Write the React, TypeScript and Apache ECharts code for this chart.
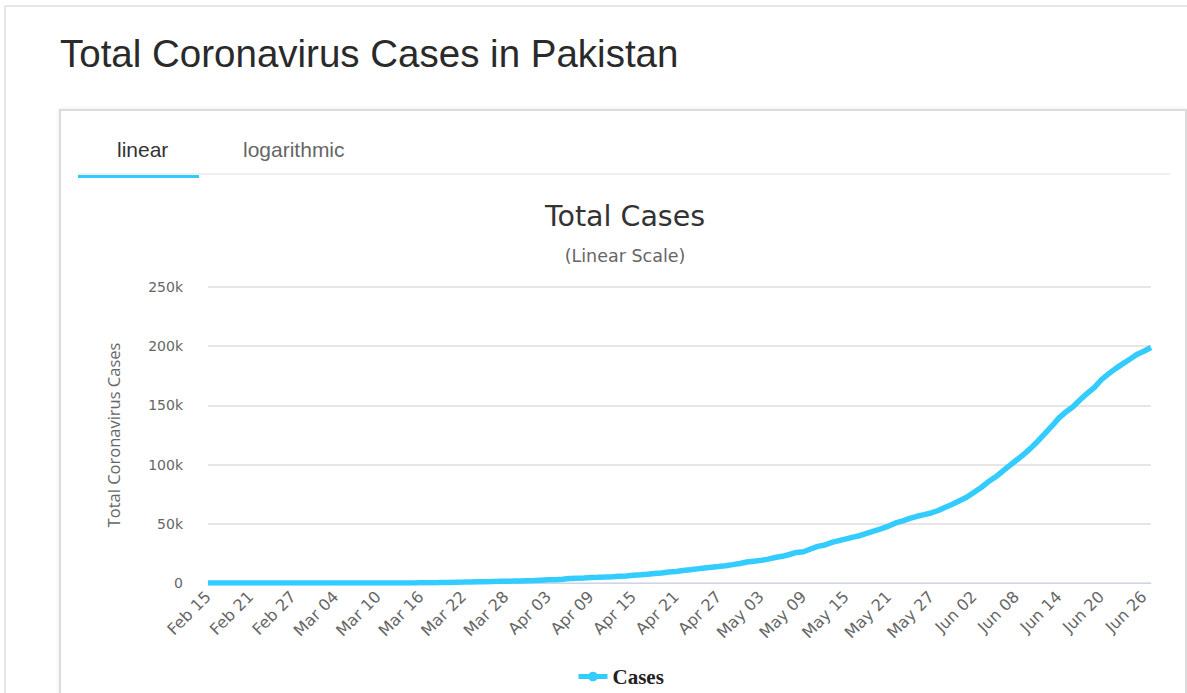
import React, { useEffect, useRef } from "react";
import * as echarts from "echarts";

const months = [
  { name: "Feb", start: 15, end: 29 },
  { name: "Mar", start: 1, end: 31 },
  { name: "Apr", start: 1, end: 30 },
  { name: "May", start: 1, end: 31 },
  { name: "Jun", start: 1, end: 27 },
];
const categories: string[] = [];
months.forEach((m) => {
  for (let d = m.start; d <= m.end; d++) categories.push(`${m.name} ${d < 10 ? "0" + d : d}`);
});

const febCases = [0, 0, 0, 0, 0, 0, 0, 0, 0, 0, 0, 2, 2, 2, 4];
const marCases = [4, 4, 5, 5, 5, 6, 6, 6, 7, 16, 19, 20, 28, 31, 53, 187, 241, 302, 454, 501, 730, 776, 875, 972, 1063, 1201, 1373, 1495, 1597, 1717, 1938];
const aprCases = [2118, 2421, 2686, 2818, 3157, 3766, 4035, 4263, 4601, 4788, 5038, 5374, 5716, 5988, 6505, 6919, 7481, 7993, 8418, 9216, 9749, 10513, 11155, 11940, 12657, 13328, 13915, 14612, 15525, 16473];
const mayCases = [17699, 18449, 19103, 20186, 21501, 22550, 24073, 25837, 26435, 28736, 30941, 32081, 34336, 35788, 37218, 38799, 40151, 42125, 43966, 45898, 48091, 50694, 52437, 54601, 56349, 57705, 59151, 61227, 64028, 66457, 69496];
const junCases = [72460, 76398, 80463, 85264, 89249, 93983, 98943, 103671, 108317, 113702, 119536, 125933, 132405, 139230, 144478, 148921, 154760, 160118, 165062, 171666, 176617, 181088, 185034, 188926, 192970, 195745, 198883];
const cases = [...febCases, ...marCases, ...aprCases, ...mayCases, ...junCases];

const yTicks = [0, 50000, 100000, 150000, 200000, 250000];

export default function App() {
  const ref = useRef<HTMLDivElement>(null);
  useEffect(() => {
    const chart = echarts.init(ref.current!, null, { renderer: "svg" });
    const blue = "#33ccff";
    chart.setOption({
      animation: false,
      backgroundColor: "#fff",
      graphic: [
        { type: "line", shape: { x1: 5, y1: 6, x2: 1187, y2: 6 }, style: { stroke: "#e6e6e6", lineWidth: 2 }, z: -10 },
        { type: "line", shape: { x1: 5, y1: 6, x2: 5, y2: 693 }, style: { stroke: "#e6e6e6", lineWidth: 2 }, z: -10 },
        { type: "rect", shape: { x: 60, y: 110, width: 1126, height: 620 }, style: { fill: "#fff", stroke: "#dcdcdc", lineWidth: 2, shadowBlur: 4, shadowColor: "rgba(0,0,0,0.08)" }, z: -9 },
        { type: "line", shape: { x1: 78, y1: 174, x2: 1170, y2: 174 }, style: { stroke: "#efefef", lineWidth: 2 }, z: -8 },
        { type: "rect", shape: { x: 78, y: 175, width: 121, height: 3 }, style: { fill: blue }, z: -7 },
        { type: "text", x: 60, y: 53, style: { text: "Total Coronavirus Cases in Pakistan", font: "38.5px 'Liberation Sans', Arial, sans-serif", fill: "#2a2a2a", textVerticalAlign: "middle" } },
        { type: "text", x: 117, y: 149, style: { text: "linear", font: "21px 'Liberation Sans', Arial, sans-serif", fill: "#333", textVerticalAlign: "middle" } },
        { type: "text", x: 243, y: 149, style: { text: "logarithmic", font: "21px 'Liberation Sans', Arial, sans-serif", fill: "#666", textVerticalAlign: "middle" } },
        { type: "text", x: 625, y: 216, style: { text: "Total Cases", font: "28.5px 'DejaVu Sans', sans-serif", fill: "#333", textAlign: "center", textVerticalAlign: "middle" } },
        { type: "text", x: 625, y: 256, style: { text: "(Linear Scale)", font: "17.5px 'DejaVu Sans', sans-serif", fill: "#666", textAlign: "center", textVerticalAlign: "middle" } },
      ],
      grid: { left: 208, right: 36, top: 287, bottom: 110 },
      legend: {
        left: 571,
        top: 661,
        itemWidth: 29,
        itemHeight: 12,
        itemGap: 8,
        lineStyle: { width: 5 },
        textStyle: { fontFamily: "'Liberation Serif', serif", fontWeight: "bold", fontSize: 21, color: "#222" },
        data: ["Cases"],
      },
      xAxis: {
        type: "category",
        data: categories,
        boundaryGap: false,
        axisLine: { lineStyle: { color: "#ccd6eb", width: 1 } },
        axisTick: { show: false },
        axisLabel: {
          interval: 5,
          rotate: 45,
          margin: 11,
          color: "#666",
          fontSize: 16,
          fontFamily: "'DejaVu Sans', sans-serif",
        },
      },
      yAxis: {
        type: "value",
        min: yTicks[0],
        max: yTicks[yTicks.length - 1],
        interval: 50000,
        name: "Total Coronavirus Cases",
        nameLocation: "middle",
        nameGap: 86,
        nameTextStyle: { color: "#666", fontSize: 16.5, fontFamily: "'Open Sans', sans-serif" },
        axisLine: { show: false },
        axisTick: { show: false },
        splitLine: { lineStyle: { color: "#e6e6e6", width: 2 } },
        axisLabel: {
          margin: 25,
          color: "#666",
          fontSize: 14,
          fontFamily: "'DejaVu Sans', sans-serif",
          formatter: (v: number) => (v === 0 ? "0" : v / 1000 + "k"),
        },
      },
      series: [
        {
          name: "Cases",
          type: "line",
          data: cases,
          showSymbol: false,
          symbol: "circle",
          symbolSize: 12,
          lineStyle: { color: blue, width: 5.5 },
          itemStyle: { color: blue },
        },
      ],
    });
    return () => chart.dispose();
  }, []);
  return <div ref={ref} style={{ position: "fixed", left: 0, top: 0, width: 1187, height: 693 }} />;
}
